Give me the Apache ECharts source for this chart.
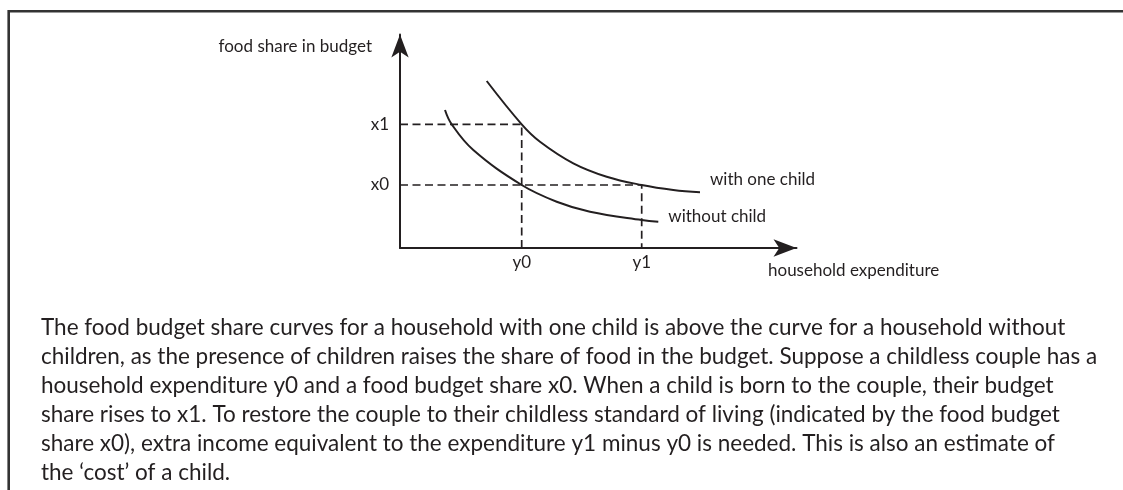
<!DOCTYPE html>
<html>
<head>
<meta charset="utf-8">
<script src="https://cdn.jsdelivr.net/npm/echarts@6/dist/echarts.min.js"></script>
<style>
  html, body { margin: 0; padding: 0; background: #fff; }
  #chart { width: 1123px; height: 490px; }
</style>
</head>
<body>
<div id="chart"></div>
<script>
// curve points (x = expenditure, y = food share, arbitrary units)
var withChildX    = [86.7, 121.7, 140, 173.3, 206.7, 241.7, 273.3, 300]
var withChildY    = [167, 123.7, 106.3, 84.7, 71.3, 63, 58, 55.7]
var withoutChildX = [45, 51.7, 73.3, 121.7, 156.7, 190, 241.7, 258.3]
var withoutChildY = [138, 123.7, 98, 63, 46.3, 36.3, 28, 26.3]

// marked levels on the axes
var xTickLabels = ['y0', 'y1']
var xTickValues = [121.7, 241.7]
var yTickLabels = ['x1', 'x0']
var yTickValues = [123.7, 63]

var seriesNames = ['with one child', 'without child']
var axisNames   = ['household expenditure', 'food share in budget']

var caption = [
  'The food budget share curves for a household with one child is above the curve for a household without',
  'children, as the presence of children raises the share of food in the budget. Suppose a childless couple has a',
  'household expenditure y0 and a food budget share x0. When a child is born to the couple, their budget',
  'share rises to x1. To restore the couple to their childless standard of living (indicated by the food budget',
  'share x0), extra income equivalent to the expenditure y1 minus y0 is needed. This is also an estimate of',
  'the \u2018cost\u2019 of a child.'
]

var FONT = 'Lato'
var INK = '#231f20'

function zip(xs, ys) {
  return xs.map(function(x, i) { return [x, ys[i]] })
}

var chart = echarts.init(document.getElementById('chart'), null, { renderer: 'canvas' })

var axisCommon = {
  type: 'value',
  min: 0,
  splitLine: { show: false },
  axisTick: { show: false },
  axisLabel: { show: false },
  axisLine: {
    show: true,
    onZero: false,
    symbol: ['none', 'arrow'],
    symbolSize: [13, 23],
    lineStyle: { color: INK, width: 2 }
  }
}

var dashStyle = { color: INK, width: 1.7, type: [8, 4.5] }

chart.setOption({
  animation: false,
  backgroundColor: '#fff',
  grid: { left: 400, top: 34.5, right: 326.5, bottom: 242 },
  xAxis: Object.assign({}, axisCommon, { max: 396.5 }),
  yAxis: Object.assign({}, axisCommon, { max: 213.5 }),
  series: [
    // dashed guides: x1 -> y0, x0 -> y1
    {
      type: 'line', symbol: 'none', silent: true,
      data: [[0, yTickValues[0]], [xTickValues[0], yTickValues[0]], [xTickValues[0], 0]],
      lineStyle: dashStyle
    },
    {
      type: 'line', symbol: 'none', silent: true,
      data: [[0, yTickValues[1]], [xTickValues[1], yTickValues[1]], [xTickValues[1], 0]],
      lineStyle: dashStyle
    },
    {
      name: seriesNames[0], type: 'line', symbol: 'none', smooth: 0.4,
      data: zip(withChildX, withChildY),
      lineStyle: { color: INK, width: 2 }
    },
    {
      name: seriesNames[1], type: 'line', symbol: 'none', smooth: 0.4,
      data: zip(withoutChildX, withoutChildY),
      lineStyle: { color: INK, width: 2 }
    }
  ]
})

/* ── labels placed through the grid's own scales ─────────────────────── */
function px(x, y) { return chart.convertToPixel({ gridIndex: 0 }, [x, y]) }

function label(text, pos, align, size) {
  return {
    type: 'text', x: pos[0], y: pos[1], silent: true,
    style: {
      text: text, fill: INK, font: (size || 17) + 'px ' + FONT,
      align: align || 'left', verticalAlign: 'middle'
    }
  }
}

var g = []

// frame round the figure
g.push({
  type: 'rect', silent: true,
  shape: { x: 8.7, y: 11.2, width: 1200, height: 600 },
  style: { fill: 'none', stroke: '#333', lineWidth: 2.6 }
})

var origin = px(0, 0)
xTickLabels.forEach(function(t, i) {
  var p = px(xTickValues[i], 0)
  g.push(label(t, [p[0], origin[1] + 15], 'center'))
})
yTickLabels.forEach(function(t, i) {
  var p = px(0, yTickValues[i])
  g.push(label(t, [origin[0] - 11, p[1]], 'right'))
})

var endWith = px(withChildX[withChildX.length - 1], withChildY[withChildY.length - 1])
var endWithout = px(withoutChildX[withoutChildX.length - 1], withoutChildY[withoutChildY.length - 1])
g.push(label(seriesNames[0], [endWith[0] + 10, endWith[1] - 13]))
g.push(label(seriesNames[1], [endWithout[0] + 10, endWithout[1] - 5]))

g.push(label(axisNames[0], [768, origin[1] + 23]))
g.push(label(axisNames[1], [372, 47], 'right'))

caption.forEach(function(line, i) {
  g.push(label(line, [41, 328 + i * 29], 'left', 22.5))
})

chart.setOption({ graphic: { elements: g } })
</script>
</body>
</html>
